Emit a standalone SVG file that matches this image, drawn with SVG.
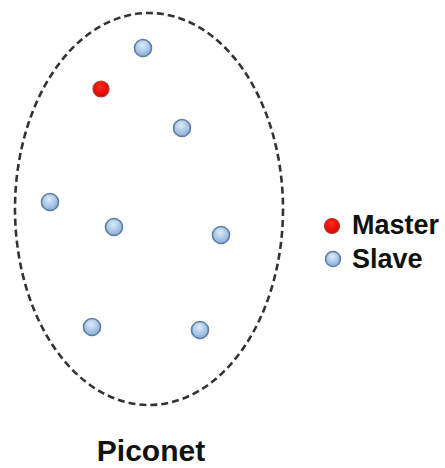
<svg xmlns="http://www.w3.org/2000/svg" width="445" height="468" viewBox="0 0 445 468">
<defs>
<radialGradient id="gb" cx="0.45" cy="0.35" r="0.7">
<stop offset="0" stop-color="#dcebf9"/>
<stop offset="1" stop-color="#7fa9d6"/>
</radialGradient>
<radialGradient id="gr" cx="0.45" cy="0.35" r="0.7">
<stop offset="0" stop-color="#ff2a1a"/>
<stop offset="1" stop-color="#d40000"/>
</radialGradient>
<style>
.slave{fill:url(#gb);stroke:#5f7d9f;stroke-width:1.6}
.master{fill:url(#gr);stroke:#b23a2a;stroke-width:1.2}
.lbl{font-family:"Liberation Sans",Arial,sans-serif;font-weight:bold;fill:#111}
</style>
</defs>
<rect width="445" height="468" fill="#fff"/>
<g id="piconet-boundary">
<ellipse cx="149" cy="209" rx="134" ry="196" fill="none" stroke="#333" stroke-width="2.6" stroke-dasharray="7 4"/>
</g>
<g id="connectors"/>
<g id="master"><circle class="master" cx="101" cy="89" r="8"/></g>
<g id="slave1"><circle class="slave" cx="143" cy="48" r="8.5"/></g>
<g id="slave2"><circle class="slave" cx="182" cy="128" r="8.5"/></g>
<g id="slave3"><circle class="slave" cx="50" cy="202" r="8.5"/></g>
<g id="slave4"><circle class="slave" cx="114" cy="227" r="8.5"/></g>
<g id="slave5"><circle class="slave" cx="221" cy="235" r="8.5"/></g>
<g id="slave6"><circle class="slave" cx="92" cy="327" r="8.5"/></g>
<g id="slave7"><circle class="slave" cx="200" cy="330" r="8.5"/></g>
<g id="legend">
<circle class="master" cx="332" cy="226" r="7.5"/>
<text class="lbl" x="352" y="234" font-size="27">Master</text>
<circle class="slave" cx="333" cy="259" r="7.5"/>
<text class="lbl" x="352" y="268" font-size="27">Slave</text>
</g>
<g id="title">
<text class="lbl" x="151" y="461" font-size="30" text-anchor="middle">Piconet</text>
</g>
</svg>
